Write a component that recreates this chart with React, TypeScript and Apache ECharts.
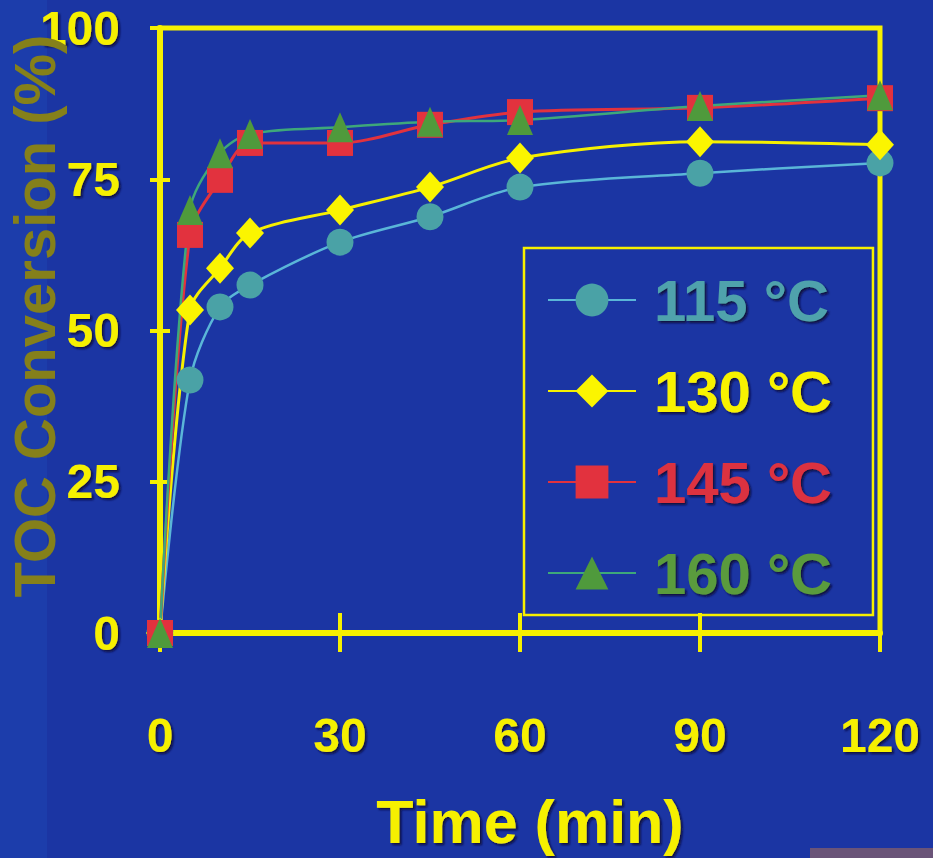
import React, { useEffect, useRef } from "react";
import * as echarts from "echarts";

const times = [0, 5, 10, 15, 30, 45, 60, 90, 120];
const conv115 = [0, 41.8, 53.9, 57.5, 64.6, 68.8, 73.7, 76.0, 77.7];
const conv130 = [0, 53.4, 60.3, 66.1, 69.9, 73.7, 78.5, 81.2, 80.7];
const conv145 = [0, 65.8, 74.9, 81.0, 81.0, 84.0, 86.1, 86.8, 88.4];
const conv160 = [0, 69.9, 79.3, 82.5, 83.6, 84.5, 84.8, 87.1, 88.9];
const seriesNames = ["115 °C", "130 °C", "145 °C", "160 °C"];
const xTitle = "Time (min)";
const yTitle = "TOC Conversion (%)";

const FONT = "'Liberation Sans', Arial, Helvetica, sans-serif";
const YELLOW = "#f6f000";
const BG = "#1b35a3";

const shadow = {
  textShadowColor: "rgba(8,16,60,0.95)",
  textShadowBlur: 2,
  textShadowOffsetX: 2,
  textShadowOffsetY: 2,
};

export default function App() {
  const ref = useRef<HTMLDivElement>(null);
  useEffect(() => {
    if (!ref.current) return;
    const chart = echarts.init(ref.current, null, { renderer: "svg" });
    const mk = (vals: number[]) => times.map((t, i) => [t, vals[i]]);
    const seriesDefs = [
      { name: seriesNames[0], data: mk(conv115), symbol: "circle", size: 27, fill: "#4aa2a6", line: "#5ab6d8", lw: 2.5 },
      { name: seriesNames[1], data: mk(conv130), symbol: "diamond", size: [28, 31], fill: "#fbf500", line: "#f6f000", lw: 3 },
      { name: seriesNames[2], data: mk(conv145), symbol: "rect", size: 26, fill: "#e2323e", line: "#e2323e", lw: 3 },
      { name: seriesNames[3], data: mk(conv160), symbol: "triangle", size: [26, 30], fill: "#4f9a3c", line: "#3ea87a", lw: 2.5 },
    ];
    const textColors = ["#4fa2ac", "#f8f200", "#dc3340", "#5a9b3e"];
    const axisLabel = {
      color: YELLOW,
      fontSize: 48,
      fontWeight: "bold" as const,
      fontFamily: FONT,
      ...shadow,
    };
    chart.setOption({
      animation: false,
      backgroundColor: BG,
      grid: {
        left: 160,
        right: 53,
        top: 28,
        bottom: 225,
        show: true,
        borderColor: YELLOW,
        borderWidth: 5,
        backgroundColor: "transparent",
      },
      xAxis: [
        {
          type: "value",
          min: 0,
          max: 120,
          interval: 30,
          position: "bottom",
          axisLine: { show: true, onZero: false, lineStyle: { color: YELLOW, width: 6 } },
          axisTick: { show: true, length: 19, lineStyle: { color: YELLOW, width: 4 } },
          axisLabel: { ...axisLabel, margin: 78 },
          splitLine: { show: false },
        },
        {
          type: "value",
          min: 0,
          max: 120,
          interval: 30,
          position: "bottom",
          axisLine: { show: false },
          axisTick: { show: true, inside: true, length: 20, lineStyle: { color: YELLOW, width: 4 } },
          axisLabel: { show: false },
          splitLine: { show: false },
        },
      ],
      yAxis: [
        {
          type: "value",
          min: 0,
          max: 100,
          interval: 25,
          position: "left",
          axisLine: { show: true, onZero: false, lineStyle: { color: YELLOW, width: 6 } },
          axisTick: { show: true, length: 10, lineStyle: { color: YELLOW, width: 4 } },
          axisLabel: { ...axisLabel, margin: 40 },
          splitLine: { show: false },
        },
        {
          type: "value",
          min: 0,
          max: 100,
          interval: 25,
          position: "left",
          offset: 0,
          axisLine: { show: false },
          axisTick: { show: true, inside: true, length: 10, lineStyle: { color: YELLOW, width: 4 } },
          axisLabel: { show: false },
          splitLine: { show: false },
        },
      ],
      legend: {
        orient: "vertical",
        left: 524,
        top: 248,
        itemWidth: 88,
        itemHeight: 41,
        itemGap: 33,
        padding: [23, 41, 13, 23],
        borderColor: YELLOW,
        borderWidth: 2.5,
        selectedMode: false,
        data: seriesNames.map((n, i) => ({ name: n, textStyle: { color: textColors[i] } })),
        textStyle: {
          fontSize: 58,
          fontWeight: "bold",
          fontFamily: FONT,
          lineHeight: 41,
          padding: [0, 0, 0, 13],
          ...shadow,
        },
      },
      graphic: [
        {
          type: "rect",
          z: -10,
          shape: { x: 0, y: 0, width: 47, height: 858 },
          style: { fill: "#1c3dab" },
        },
        {
          type: "rect",
          z: -10,
          shape: { x: 810, y: 848, width: 123, height: 10 },
          style: { fill: "#6a5478" },
        },
        {
          type: "text",
          z: 10,
          x: 34,
          y: 316,
          rotation: Math.PI / 2,
          style: {
            text: yTitle,
            fill: "#85801a",
            font: `bold 58px ${FONT}`,
            lineHeight: 58,
            align: "center",
            verticalAlign: "middle",
          },
        },
        {
          type: "text",
          z: 10,
          x: 530,
          y: 822,
          style: {
            text: xTitle,
            fill: YELLOW,
            font: `bold 61px ${FONT}`,
            align: "center",
            verticalAlign: "middle",
            ...shadow,
          },
        },
      ],
      series: seriesDefs.map((s) => ({
        name: s.name,
        type: "line",
        data: s.data,
        smooth: 0.3,
        symbol: s.symbol,
        symbolSize: s.size,
        showAllSymbol: true,
        clip: false,
        itemStyle: { color: s.fill, opacity: 1 },
        lineStyle: { color: s.line, width: s.lw },
        emphasis: { disabled: true },
      })),
    });
    return () => chart.dispose();
  }, []);
  return (
    <div
      ref={ref}
      style={{ position: "fixed", left: 0, top: 0, width: 933, height: 858 }}
    />
  );
}
